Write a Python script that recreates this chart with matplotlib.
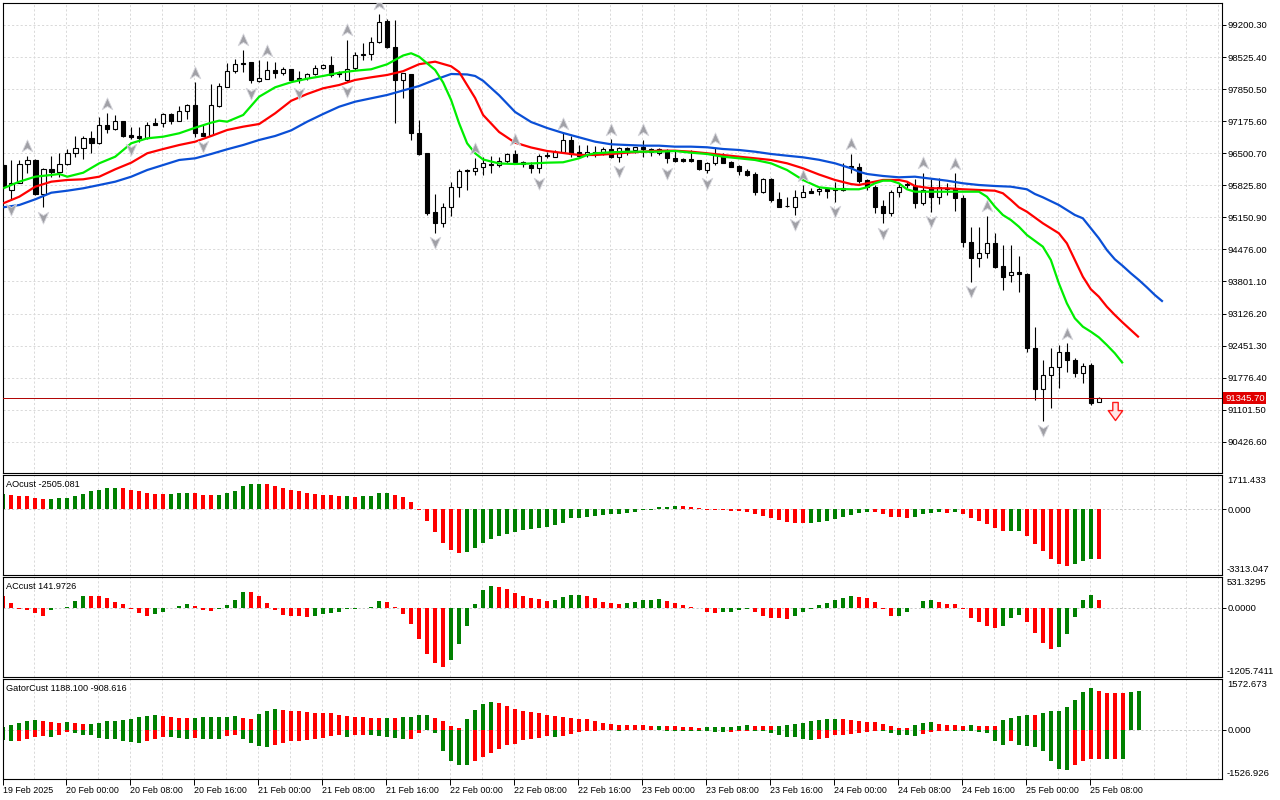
import numpy as np
import matplotlib
matplotlib.use("Agg")
import matplotlib.pyplot as plt
from matplotlib.path import Path
from matplotlib.transforms import blended_transform_factory

plt.rcParams['font.family'] = ['Liberation Sans', 'DejaVu Sans']
plt.rcParams['font.size'] = 6.5

# ---- H1 candles, bar 0 = 19 Feb 2025 16:00 ----
opens = [96253, 95727, 95881, 96268, 96352, 95637, 96163, 96112, 96268, 96500,
         96605, 96815, 96723, 97089, 97017, 97173, 96885, 96864, 96815, 97131,
         97131, 97321, 97173, 97390, 97510, 96933, 96878, 97495, 97902, 98232,
         98407, 98421, 98028, 98057, 98247, 98184, 98268, 98091, 98091, 98163,
         98289, 98352, 98190, 98043, 98289, 98569, 98590, 98849, 99291, 98731,
         98043, 98169, 96921, 96500, 95264, 95039, 95363, 95784, 96148, 96133,
         96205, 96274, 96247, 96344, 96485, 96323, 96260, 96184, 96457, 96428,
         96527, 96780, 96521, 96464, 96533, 96500, 96584, 96428, 96605, 96569,
         96626, 96584, 96512, 96569, 96394, 96373, 96373, 96359, 96148, 96289,
         96443, 96310, 96232, 96133, 96064, 95691, 95952, 95531, 95390, 95376,
         95586, 95706, 95700, 95742, 95742, 95727, 96232, 96205, 95938, 95797,
         95390, 95249, 95679, 95853, 95818, 95460, 95797, 95586, 95775, 95775,
         95552, 94639, 94289, 94395, 94618, 94127, 93938, 93995, 93959, 92395,
         91532, 91826, 91995, 92323, 92149, 91869, 92043, 91258]
highs = [96295, 96359, 96359, 96443, 96373, 96190, 96443, 96500, 96584, 96864,
         96864, 96975, 97257, 97342, 97306, 97180, 97047, 97060, 97158, 97236,
         97342, 97354, 97495, 97537, 97994, 97089, 97958, 97973, 98394, 98478,
         98674, 98425, 98464, 98449, 98421, 98323, 98274, 98238, 98196, 98358,
         98373, 98548, 98226, 98885, 98638, 98815, 98954, 99432, 99320, 99306,
         98190, 98175, 97201, 96506, 95643, 95460, 95902, 96163, 96159, 96394,
         96428, 96443, 96428, 96500, 96569, 96344, 96323, 96485, 96533, 96569,
         96921, 96864, 96674, 96674, 96653, 96639, 96794, 96639, 96639, 96639,
         96780, 96605, 96605, 96584, 96569, 96401, 96569, 96365, 96323, 96605,
         96500, 96344, 96253, 96163, 96112, 95973, 95973, 95691, 95586, 95727,
         95832, 95763, 95784, 95763, 95902, 96302, 96485, 96302, 95958, 95832,
         95517, 95727, 95874, 95923, 95952, 96091, 95952, 95973, 95874, 96079,
         95622, 94942, 94942, 95180, 94828, 94569, 94569, 94338, 93973, 92850,
         92149, 92395, 92464, 92500, 92191, 92085, 92091, 91369]
lows = [95727, 95517, 95874, 96085, 95622, 95363, 96007, 96007, 96260, 96428,
        96373, 96500, 96695, 96933, 97000, 96843, 96794, 96744, 96808, 97095,
        97060, 97110, 97169, 97215, 96836, 96855, 96874, 97480, 97895, 98184,
        98217, 97973, 98007, 98053, 98078, 98142, 98032, 97973, 98043, 98148,
        98284, 98099, 98099, 98007, 98253, 98464, 98464, 98815, 98716, 97144,
        97657, 96780, 96464, 95201, 94828, 94955, 95180, 95586, 95727, 96043,
        96043, 96079, 96218, 96289, 96289, 96218, 96079, 96079, 96394, 96420,
        96500, 96428, 96428, 96428, 96428, 96464, 96394, 96323, 96464, 96512,
        96428, 96443, 96464, 96289, 96323, 96323, 96323, 96148, 96079, 96253,
        96289, 96205, 96043, 96022, 95622, 95670, 95481, 95363, 95376, 95201,
        95573, 95658, 95622, 95552, 95481, 95712, 96091, 95881, 95727, 95249,
        95026, 95180, 95580, 95769, 95342, 95411, 95270, 95432, 95622, 95291,
        94534, 93797, 94113, 94289, 94092, 93622, 93797, 93586, 92323, 91307,
        90871, 91132, 91553, 91902, 91784, 91671, 91201, 91254]
closes = [95797, 95881, 96268, 96359, 95637, 96163, 96112, 96268, 96500, 96605,
          96815, 96723, 97089, 97017, 97173, 96864, 96849, 96815, 97089, 97102,
          97321, 97173, 97390, 97510, 96921, 96864, 97510, 97916, 98232, 98373,
          98373, 98043, 98078, 98247, 98184, 98268, 98043, 98043, 98163, 98289,
          98352, 98148, 98169, 98280, 98569, 98590, 98849, 99270, 98731, 98043,
          98184, 96921, 96485, 95237, 95026, 95363, 95784, 96127, 96121, 96184,
          96289, 96247, 96344, 96479, 96310, 96274, 96184, 96443, 96443, 96527,
          96780, 96485, 96443, 96533, 96485, 96584, 96428, 96605, 96569, 96626,
          96584, 96533, 96584, 96394, 96344, 96344, 96344, 96163, 96289, 96464,
          96302, 96218, 96133, 96049, 95691, 95952, 95517, 95376, 95383, 95586,
          95679, 95670, 95742, 95712, 95727, 95759, 96205, 95923, 95797, 95376,
          95249, 95679, 95797, 95839, 95460, 95727, 95586, 95797, 95748, 95552,
          94639, 94289, 94395, 94618, 94113, 93902, 93995, 93953, 92395, 91532,
          91826, 91995, 92323, 92149, 91869, 92029, 91250, 91345.70]
last_price = 91345.70

# ---- alligator lines (bar index, value), already shifted forward ----
jaw_bars = [0, 2, 4, 6, 8, 10, 12, 14, 16, 18, 20, 22, 24, 26, 28, 30, 32, 34, 36, 38,
            40, 42, 44, 46, 48, 50, 52, 54, 56, 58, 59, 60, 62, 64, 66, 68, 70, 72, 74, 76,
            78, 80, 82, 84, 86, 88, 90, 92, 94, 96, 98, 100, 102, 104, 106, 107, 108, 110,
            112, 114, 116, 118, 120, 122, 124, 126, 128, 129, 130, 132, 133, 134, 135,
            136, 137, 138, 139, 140, 141, 142, 143, 144, 145]
jaw_vals = [95363, 95411, 95531, 95670, 95712, 95763, 95832, 95902, 96007, 96148,
            96253, 96359, 96394, 96485, 96584, 96674, 96780, 96864, 96982, 97165,
            97327, 97480, 97586, 97657, 97727, 97822, 97916, 98049, 98169, 98159,
            98127, 98026, 97721, 97369, 97158, 97032, 96927, 96836, 96744, 96689,
            96674, 96660, 96660, 96639, 96639, 96626, 96590, 96569, 96533, 96485,
            96449, 96415, 96363, 96289, 96184, 96112, 96064, 96022, 95994, 96007,
            95965, 95923, 95868, 95832, 95811, 95797, 95742, 95643, 95573, 95411,
            95306, 95201, 95131, 94921, 94710, 94464, 94268, 94127, 93974, 93833,
            93679, 93517, 93376]
teeth_bars = [0, 2, 4, 6, 8, 10, 12, 14, 16, 18, 20, 22, 24, 26, 28, 30, 32, 34, 36, 38,
              40, 42, 44, 46, 48, 50, 52, 54, 56, 57, 58, 59, 60, 62, 64, 66, 68, 70, 72,
              74, 76, 78, 80, 82, 84, 86, 88, 90, 92, 94, 96, 98, 100, 102, 104, 106, 107,
              108, 110, 112, 113, 114, 116, 118, 120, 122, 124, 125, 126, 127, 128, 130,
              132, 133, 134, 135, 136, 137, 138, 139, 140, 141, 142]
teeth_vals = [95447, 95586, 95797, 95902, 95938, 95952, 96007, 96163, 96302, 96500,
              96590, 96674, 96744, 96864, 96990, 97060, 97116, 97342, 97605, 97748,
              97868, 97937, 98043, 98099, 98148, 98228, 98375, 98428, 98331, 98211,
              97937, 97664, 97306, 96948, 96723, 96622, 96548, 96506, 96464, 96464,
              96485, 96512, 96533, 96554, 96554, 96533, 96500, 96464, 96428, 96394,
              96359, 96289, 96184, 96053, 95938, 95853, 95832, 95868, 95938, 95938,
              95902, 95811, 95763, 95763, 95742, 95727, 95712, 95658, 95517, 95363,
              95270, 95026, 94816, 94605, 94254, 93902, 93637, 93481, 93271, 93096,
              92934, 92780, 92626]
lips_bars = [0, 2, 4, 6, 7, 8, 10, 12, 14, 16, 18, 20, 22, 24, 26, 27, 28, 30, 32, 34,
             36, 38, 40, 42, 44, 46, 48, 50, 51, 52, 54, 55, 56, 57, 58, 59, 60, 62, 64,
             66, 68, 70, 72, 73, 74, 76, 78, 80, 82, 84, 86, 88, 90, 92, 94, 96, 98, 99,
             100, 102, 104, 106, 107, 108, 109, 110, 111, 112, 113, 114, 116, 118, 120,
             122, 123, 124, 125, 126, 127, 128, 130, 131, 132, 133, 134, 135, 136, 137,
             138, 139, 140]
lips_vals = [95763, 95902, 96007, 96043, 96064, 96007, 96091, 96289, 96428, 96710,
             96815, 96849, 96921, 97038, 97144, 97186, 97165, 97306, 97691, 97889,
             97996, 98070, 98127, 98196, 98238, 98268, 98373, 98558, 98605, 98533,
             98253, 97990, 97622, 97131, 96710, 96500, 96369, 96285, 96274, 96285,
             96302, 96310, 96394, 96464, 96500, 96521, 96533, 96533, 96533, 96548,
             96512, 96485, 96428, 96394, 96359, 96289, 96148, 96043, 95938, 95784,
             95748, 95742, 95742, 95784, 95868, 95923, 95923, 95868, 95742, 95691,
             95691, 95691, 95691, 95691, 95586, 95376, 95201, 95095, 94955, 94780,
             94534, 94254, 93763, 93342, 93026, 92850, 92744, 92626, 92464, 92290,
             92079]

fractal_up = [3, 13, 24, 30, 33, 43, 47, 59, 64, 70, 76, 80, 89, 100, 106, 115, 119, 123, 133]
fractal_down = [1, 5, 16, 25, 31, 37, 43, 54, 67, 77, 83, 88, 99, 104, 110, 116, 121, 130]
sell_bar, sell_price = 139, 91075

price_ticks = [99200.30, 98525.40, 97850.50, 97175.60, 96500.70, 95825.80, 95150.90,
               94476.00, 93801.10, 93126.20, 92451.30, 91776.40, 91101.50, 90426.60]

# ---- oscillators ----
ao = [779, 745, 662, 655, 561, 528, 535, 561, 565, 662,
      796, 913, 980, 1064, 1070, 1064, 963, 913, 812, 762,
      755, 762, 812, 815, 808, 712, 705, 712, 812, 913,
      1164, 1265, 1270, 1262, 1164, 1064, 963, 913, 812, 762,
      712, 705, 662, 668, 611, 662, 668, 812, 815, 712,
      611, 360, -25, -578, -1147, -1683, -2035, -2186, -2152, -1935,
      -1683, -1482, -1332, -1231, -1147, -1030, -980, -930, -879, -779,
      -678, -444, -410, -377, -310, -276, -243, -209, -176, -142,
      -25, -8, 109, 117, 159, 151, 134, 59, -8, -25,
      -42, -75, -100, -117, -209, -310, -427, -528, -645, -678,
      -695, -678, -645, -578, -477, -377, -276, -176, -109, -142,
      -243, -360, -385, -410, -377, -243, -176, -142, -176, -151,
      -226, -427, -578, -745, -946, -1097, -1072, -1064, -1348, -1734,
      -2102, -2487, -2755, -2856, -2739, -2605, -2480, -2505]
ao_colors = ("grrrrrgggg" "gggggrrrrr" "rgggrrrggg" "gggrrrrrrr" "rrrgrggggr"
             "rrrrrrrrgg" "gggggggggg" "gggggggggg" "gggggrrrrr" "rrrrrrrrrr"
             "rggggggggr" "rrrrggggrg" "rrrrrrggrr" "rrrrgggr")
ac = [209, 87, -17, -41, -99, -139, -46, -12, 17, 122,
      209, 206, 203, 174, 104, 58, -17, -99, -139, -116,
      -81, -12, 35, 70, 35, -41, -58, -23, 52, 139,
      278, 276, 209, 87, -46, -128, -145, -151, -162, -139,
      -104, -87, -81, -23, -17, -12, 12, 116, 104, 17,
      -104, -278, -551, -800, -969, -1038, -916, -638, -313, 70,
      307, 377, 360, 325, 261, 203, 174, 145, 122, 142,
      186, 220, 224, 203, 174, 104, 87, 70, 87, 104,
      128, 139, 157, 116, 87, 46, 17, -12, -75, -99,
      -75, -70, -46, -23, -75, -139, -174, -186, -189, -151,
      -81, -23, 46, 87, 139, 174, 197, 194, 174, 93,
      -23, -151, -139, -81, -12, 116, 139, 104, 70, 58,
      -23, -186, -255, -313, -348, -313, -174, -128, -244, -447,
      -621, -725, -679, -464, -157, 128, 220, 142]
ac_colors = ("rrrrrrgggg" "grrrrrrrrg" "ggggrrrggg" "grrrrrrrrg" "ggggggggrr"
             "rrrrrrgggg" "ggrrrrrrrg" "gggrrrrrgg" "gggrrrrrrr" "ggggrrrrrg"
             "gggggggrrr" "rrgggggrrr" "rrrrrgggrr" "rrgggggr")
gator_up = [72, 134, 217, 279, 300, 279, 238, 217, 238, 207,
            176, 180, 217, 258, 279, 300, 341, 382, 424, 444,
            440, 382, 362, 358, 362, 382, 385, 388, 390, 424,
            362, 341, 486, 589, 630, 609, 589, 568, 548, 527,
            524, 506, 465, 424, 393, 390, 372, 362, 365, 360,
            382, 403, 444, 447, 362, 258, 103, 52, 320, 609,
            795, 857, 816, 733, 640, 589, 548, 527, 444, 424,
            393, 372, 341, 320, 279, 207, 176, 155, 145, 142,
            140, 114, 118, 114, 110, 72, 70, 68, 72, 75,
            83, 93, 114, 134, 114, 110, 103, 114, 134, 176,
            217, 258, 300, 320, 341, 330, 300, 269, 238, 235,
            176, 103, 52, 50, 134, 207, 238, 186, 155, 134,
            130, 134, 130, 114, 110, 289, 372, 424, 465, 460,
            527, 568, 589, 702, 909, 1167, 1291, 1188, 1147, 1136,
            1130, 1167, 1209]
gator_up_colors = ("gggggrrrgr" "rggggggggg" "rrrrgggggg" "rrgggrrrrr" "rrrrrrrrgr"
                   "ggggrrrrgg" "ggrrrrrrrr" "rrrrrrrrrr" "rrgrrrrrgg" "ggggrrrggg"
                   "gggggrrrrr" "rrrrgggrrr" "rgrrrggggr" "gggggggrrr" "rgg")
gator_dn = [-331, -341, -338, -279, -227, -186, -227, -155, -72, -93,
            -155, -176, -248, -279, -282, -341, -382, -403, -341, -279,
            -227, -230, -248, -279, -248, -279, -282, -285, -186, -155,
            -279, -403, -506, -527, -465, -403, -362, -341, -320, -279,
            -248, -196, -176, -227, -176, -155, -176, -196, -217, -258,
            -300, -296, -93, -21, -114, -671, -961, -1085, -1090, -981,
            -847, -713, -589, -465, -434, -331, -279, -248, -196, -238,
            -196, -124, -62, -41, -31, -21, -23, -31, -21, -18,
            -10, -21, -23, -31, -33, -35, -41, -44, -52, -62,
            -72, -62, -52, -31, -41, -52, -93, -176, -227, -238,
            -279, -310, -300, -248, -176, -165, -134, -103, -62, -31,
            -33, -93, -165, -176, -179, -124, -72, -41, -31, -33,
            -41, -52, -62, -93, -362, -465, -362, -486, -506, -527,
            -671, -981, -1229, -1240, -1105, -961, -919, -909, -914, -905,
            -919]
gator_dn_colors = ("ggrrrrgrrg" "ggggggggrr" "rgggrgggrr" "ggggrrrrrr" "rrrgrrgggg"
                   "grrrgggggr" "rrrrrrrrrg" "rrrrrrggrr" "rggggggggg" "grrrgggggg"
                   "ggrrrrrrrr" "gggggrrrrg" "ggggggrggg" "ggggrrrrgr" "g")

time_labels = ["19 Feb 2025", "20 Feb 00:00", "20 Feb 08:00", "20 Feb 16:00", "21 Feb 00:00",
               "21 Feb 08:00", "21 Feb 16:00", "22 Feb 00:00", "22 Feb 08:00", "22 Feb 16:00",
               "23 Feb 00:00", "23 Feb 08:00", "23 Feb 16:00", "24 Feb 00:00", "24 Feb 08:00",
               "24 Feb 16:00", "25 Feb 00:00", "25 Feb 08:00"]
time_label_bars = [0, 8, 16, 24, 32, 40, 48, 56, 64, 72, 80, 88, 96, 104, 112, 120, 128, 136]

GREEN, RED = '#008000', '#FF0000'
GRID = '#D9D9D9'
DASH = (0, (2.2, 2.2))
XLIM = (-0.075, 152.4)


def colors(codes):
    return [GREEN if c == 'g' else RED for c in codes]


def frame(a):
    a.set_xlim(*XLIM)
    for s in a.spines.values():
        s.set_linewidth(0.8)
        s.set_color('black')
    a.tick_params(axis='x', bottom=False, labelbottom=False)
    a.tick_params(axis='y', left=False, labelleft=False, right=True, labelright=True,
                  length=3, width=0.7, pad=0.8, labelsize=6.8)
    for gx in np.arange(4, 153, 4) - 0.12:
        a.axvline(gx, color=GRID, lw=0.7, ls=DASH, zorder=0)


fig = plt.figure(figsize=(12.8, 8), dpi=100)
L, W = 2.7 / 1280, 1219.3 / 1280
ax = fig.add_axes([L, 1 - 473 / 800, W, 470 / 800])
ax_ao = fig.add_axes([L, 1 - 575.3 / 800, W, 100 / 800])
ax_ac = fig.add_axes([L, 1 - 677 / 800, W, 99.7 / 800])
ax_g = fig.add_axes([L, 1 - 779 / 800, W, 100 / 800])
for a in (ax, ax_ao, ax_ac, ax_g):
    frame(a)

# ---- main price pane ----
o, h, l, c = map(np.array, (opens, highs, lows, closes))
x = np.arange(len(o))
ax.set_ylim(89770, 99663)
ax.set_yticks(price_ticks)
ax.set_yticklabels(['%.2f' % p for p in price_ticks])
for p in price_ticks:
    ax.axhline(p, color=GRID, lw=0.7, ls=DASH, zorder=0)

ax.vlines(x, l, h, color='black', lw=0.8, zorder=2)
bull = c >= o
ax.bar(x, np.abs(c - o), bottom=np.minimum(o, c), width=0.56,
       color=np.where(bull, 'white', 'black'), edgecolor='black', linewidth=0.8, zorder=3)

ax.plot(jaw_bars, jaw_vals, color='#0A4FD6', lw=1.6, zorder=4, solid_capstyle='butt')
ax.plot(teeth_bars, teeth_vals, color='#FF0000', lw=1.6, zorder=4, solid_capstyle='butt')
ax.plot(lips_bars, lips_vals, color='#00EE00', lw=1.6, zorder=4, solid_capstyle='butt')

up_arrow = Path([(0, 1), (0.8, -0.8), (0, -0.3), (-0.8, -0.8), (0, 1)],
                [Path.MOVETO, Path.LINETO, Path.LINETO, Path.LINETO, Path.CLOSEPOLY])
dn_arrow = Path([(0, -1), (0.8, 0.8), (0, 0.3), (-0.8, 0.8), (0, -1)],
                [Path.MOVETO, Path.LINETO, Path.LINETO, Path.LINETO, Path.CLOSEPOLY])
gap = 200
ax.plot(fractal_up, h[fractal_up] + gap, ls='none', marker=up_arrow, ms=9.5,
        mfc='#A0A0A6', mec='#D6D6DC', mew=0.6, zorder=6)
ax.plot(fractal_down, l[fractal_down] - gap, ls='none', marker=dn_arrow, ms=9.5,
        mfc='#A0A0A6', mec='#D6D6DC', mew=0.6, zorder=6)

sell_arrow = Path([(-0.3, 1), (0.3, 1), (0.3, 0.1), (0.8, 0.1), (0, -1),
                   (-0.8, 0.1), (-0.3, 0.1), (-0.3, 1)],
                  [Path.MOVETO] + [Path.LINETO] * 6 + [Path.CLOSEPOLY])
ax.plot([sell_bar], [sell_price], ls='none', marker=sell_arrow, ms=13,
        mfc='#FFE6E6', mec='#FF1A1A', mew=1.0, zorder=6)

ax.axhline(last_price, color='#B00000', lw=0.7, zorder=5)
tr = blended_transform_factory(ax.transAxes, ax.transData)
ax.text(1.0025, last_price, '%.2f' % last_price, transform=tr, color='white',
        ha='left', va='center', fontsize=6.8, clip_on=False, zorder=10,
        bbox=dict(boxstyle='square,pad=0.18', fc='#E00000', ec='none'))

# ---- oscillator panes ----
def pane(a, vals, codes, lo, hi, fmt, title):
    a.bar(np.arange(len(vals)), vals, width=0.55, color=colors(codes), zorder=2)
    a.set_ylim(lo, hi)
    a.axhline(0, color='#C8C8C8', lw=0.7, ls=DASH, zorder=1)
    a.set_yticks([0])
    a.set_yticklabels([fmt % 0])
    a.text(1.004, 0.99, fmt % hi, transform=a.transAxes, ha='left', va='top', fontsize=6.8)
    a.text(1.004, 0.01, fmt % lo, transform=a.transAxes, ha='left', va='bottom', fontsize=6.8)
    a.text(0.0028, 0.905, title, transform=a.transAxes, ha='left', va='center', fontsize=6.6)


pane(ax_ao, ao, ao_colors, -3313.047, 1711.433, '%.3f', 'AOcust -2505.081')
pane(ax_ac, ac, ac_colors, -1205.7411, 531.3295, '%.4f', 'ACcust 141.9726')
pane(ax_g, gator_up, gator_up_colors, -1526.926, 1572.673, '%.3f', 'GatorCust 1188.100 -908.616')
ax_g.bar(np.arange(len(gator_dn)), gator_dn, width=0.55, color=colors(gator_dn_colors), zorder=2)

tick_x = np.maximum(np.array(time_label_bars) - 0.12, 0.0)
ax_g.set_xticks(tick_x)
ax_g.set_xticklabels(time_labels, fontsize=6.4)
ax_g.tick_params(axis='x', bottom=True, labelbottom=True, length=4, width=0.7,
                 pad=1.0, direction='out')
for t in ax_g.get_xticklabels():
    t.set_horizontalalignment('left')

fig.savefig('out.png', dpi=100, facecolor='white')
